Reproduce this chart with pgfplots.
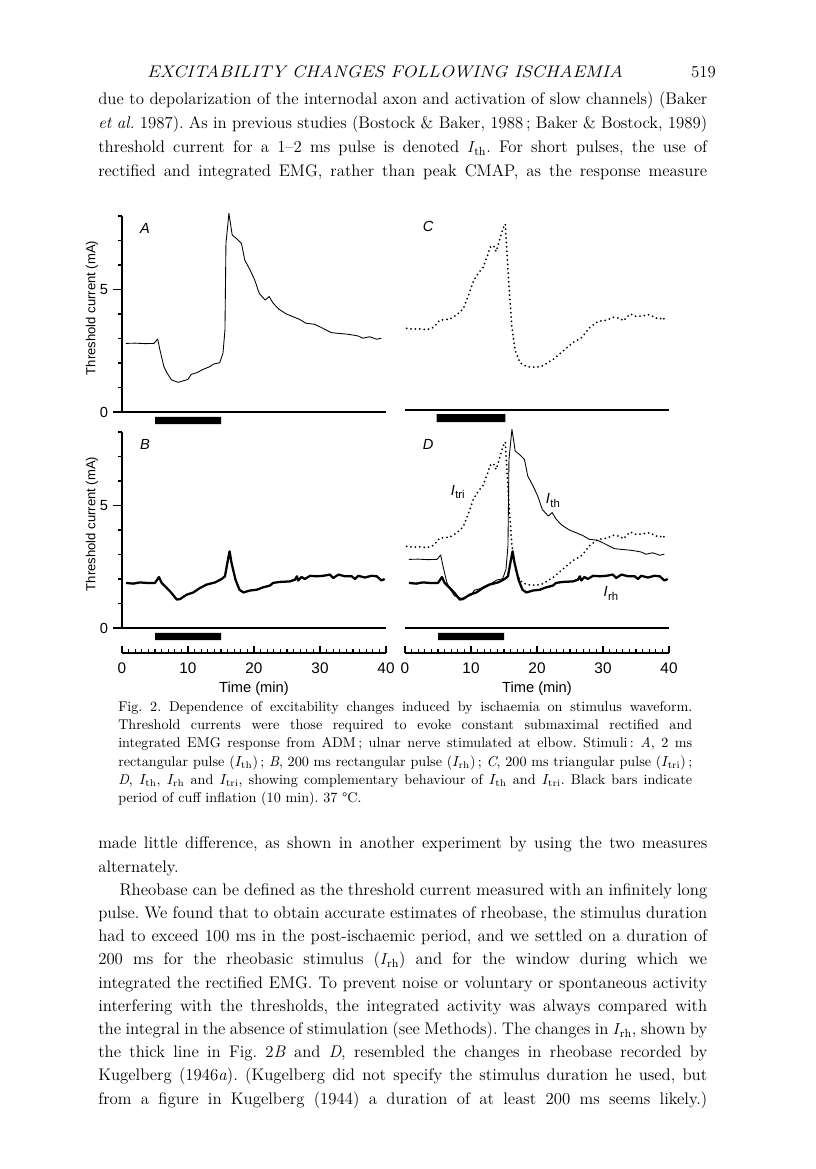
\documentclass[border=0pt]{standalone}
\usepackage{fontspec}
\usepackage{pgfplots}
\pgfplotsset{compat=1.18}
\usepackage{pgfplotstable}
\newfontfamily\figfont{Liberation Sans}

\pgfplotstableread{
t y
0.6 2.80
2.0 2.81
3.5 2.79
4.85 2.80
5.4 2.98
5.75 2.53
6.35 1.85
6.85 1.58
7.5 1.31
8.5 1.21
9.25 1.27
10.0 1.33
10.5 1.54
11.3 1.60
12.3 1.74
13.3 1.85
13.9 1.96
14.8 2.01
15.3 2.40
15.6 3.35
15.75 6.88
16.2 8.11
16.7 7.22
17.3 7.09
18.1 6.88
18.6 6.20
19.4 5.80
20.1 5.39
20.8 4.84
21.7 4.57
22.3 4.71
22.9 4.44
23.8 4.19
24.9 4.00
25.9 3.89
26.9 3.78
27.9 3.62
29.2 3.58
30.4 3.42
31.7 3.24
32.7 3.21
34.0 3.18
35.0 3.14
35.8 3.10
36.5 3.01
37.5 3.07
38.6 2.97
39.3 3.01
}\thdata

\pgfplotstableread{
t y
0.25 3.33
1.2 3.30
2.27 3.31
3.3 3.28
4.3 3.37
5.3 3.67
6.8 3.71
7.8 3.88
8.8 4.12
9.6 4.67
10.4 5.28
11.1 5.58
11.8 5.80
12.4 6.23
12.9 6.64
13.4 6.71
13.8 6.47
14.3 6.91
14.8 7.39
15.2 7.59
15.4 6.64
15.8 4.87
16.2 3.37
16.7 2.42
17.4 1.94
18.4 1.77
19.9 1.74
20.95 1.81
22.5 2.08
24.0 2.42
25.5 2.76
26.8 2.96
28.0 3.37
29.3 3.62
30.6 3.67
31.6 3.78
32.6 3.74
33.1 3.64
34.1 3.92
35.1 3.81
36.1 3.85
37.1 3.89
37.9 3.76
38.6 3.71
39.1 3.78
39.5 3.58
}\tridata

\pgfplotstableread{
t y
0.6 1.84
1.7 1.81
2.7 1.86
3.7 1.84
5.0 1.84
5.6 2.08
6.0 1.84
6.8 1.63
7.5 1.43
8.3 1.16
8.8 1.18
9.8 1.36
10.8 1.45
11.8 1.63
12.8 1.77
14.1 1.86
15.1 2.00
15.6 2.11
15.96 2.65
16.3 3.13
16.6 2.65
17.2 1.97
17.8 1.56
18.4 1.45
19.4 1.53
20.4 1.56
21.4 1.66
22.4 1.73
22.9 1.84
23.9 1.88
25.4 1.90
26.2 1.97
26.5 2.11
26.7 1.94
27.2 2.08
27.7 2.00
28.5 2.13
29.5 2.11
30.5 2.13
31.5 2.18
32.0 2.04
32.8 2.18
33.8 2.11
34.8 2.11
35.3 2.00
35.8 2.13
36.8 2.06
37.8 2.13
38.6 2.11
39.3 1.94
39.8 2.00
}\rhdata

\frenchspacing
\newlength\bodyW \setlength\bodyW{456.75pt}
\newlength\capW \setlength\capW{430.5pt}
\newcommand\bodyfont{\fontsize{12.6}{15}\selectfont}
\newcommand\capfont{\fontsize{10.6}{12.5}\selectfont}
\newcommand\bl[2]{\node[anchor=base west,inner sep=0pt] at (98,{1169-#1}) {\bodyfont\makebox[\bodyW][s]{#2}};}
\newcommand\blL[2]{\node[anchor=base west,inner sep=0pt] at (98,{1169-#1}) {\bodyfont #2};}
\newcommand\cl[2]{\node[anchor=base west,inner sep=0pt] at (118,{1169-#1}) {\capfont\makebox[\capW][s]{#2}};}
\newcommand\clL[2]{\node[anchor=base west,inner sep=0pt] at (118,{1169-#1}) {\capfont #2};}
\newcommand\ith{$I_{\mathrm{th}}$}
\newcommand\irh{$I_{\mathrm{rh}}$}
\newcommand\itri{$I_{\mathrm{tri}}$}
\newcommand\fI[1]{{\figfont\fontsize{11}{13}\selectfont\itshape I\kern0.3pt\raisebox{-0.45ex}{\upshape\fontsize{8.5}{10}\selectfont #1}}}

\pgfplotsset{
  panel/.style={scale only axis, width=198pt, height=147pt,
    xmin=0, xmax=40, ymin=0, ymax=8, clip=false, anchor=south west,
    axis line style={-, line width=1.1pt},
    tick style={line width=0.9pt, black},
    ticklabel style={font=\figfont\fontsize{11}{13}\selectfont},
    /pgf/number format/assume math mode=true,
    xtick=\empty},
  ruler/.style={scale only axis, width=198pt, height=10pt,
    xmin=0, xmax=40, ymin=0, ymax=1, anchor=south west,
    axis x line*=bottom, axis y line=none,
    axis line style={-, line width=1.0pt},
    xtick={0,10,20,30,40}, minor x tick num=9,
    tick align=inside, major tick length=5.5pt, minor tick length=3pt,
    tick style={line width=0.8pt, black},
    ticklabel style={font=\figfont\fontsize{11.5}{13}\selectfont},
    xticklabel style={yshift=-4pt},
    /pgf/number format/assume math mode=true,
    xlabel={Time (min)},
    xlabel style={font=\figfont\fontsize{11}{13}\selectfont, yshift=1pt}},
  thl/.style={black, line width=0.65pt, line join=round},
  rhl/.style={black, line width=1.7pt, line join=round},
  tril/.style={black, line width=1.5pt, line cap=round, dash pattern=on 0pt off 3.3pt},
  cuff/.style={fill=black, draw=none},
}

\begin{document}
\begin{tikzpicture}
\useasboundingbox (0pt,0pt) rectangle (612pt,876.75pt);

\begin{scope}[x=0.75pt, y=0.75pt]
% running head
\node[anchor=base, inner sep=0pt] at (385,{1169-78}) {\scalebox{1.13}[1]{\bodyfont\itshape EXCITABILITY CHANGES FOLLOWING ISCHAEMIA}};
\node[anchor=base east, inner sep=0pt] at (716,{1169-78}) {\bodyfont 519};

% text above the figure
\bl{105}{due to depolarization of the internodal axon and activation of slow channels) (Baker}
\bl{129}{\textit{et al.} 1987). As in previous studies (Bostock \& Baker, 1988\,; Baker \& Bostock, 1989)}
\bl{153}{threshold current for a 1--2 ms pulse is denoted \ith. For short pulses, the use of}
\bl{177}{rectified and integrated EMG, rather than peak CMAP, as the response measure}

% caption
\cl{711.5}{Fig.~2. Dependence of excitability changes induced by ischaemia on stimulus waveform.}
\cl{729.7}{Threshold currents were those required to evoke constant submaximal rectified and}
\cl{747.9}{integrated EMG response from ADM\,; ulnar nerve stimulated at elbow. Stimuli\,: \textit{A}, 2 ms}
\cl{766.1}{rectangular pulse (\ith)\,; \textit{B}, 200 ms rectangular pulse (\irh)\,; \textit{C}, 200 ms triangular pulse (\itri)\,;}
\cl{784.3}{\textit{D}, \ith, \irh\ and \itri, showing complementary behaviour of \ith\ and \itri. Black bars indicate}
\clL{802.5}{period of cuff inflation (10 min). 37 °C.}

% text below the figure
\bl{849}{made little difference, as shown in another experiment by using the two measures}
\blL{872.2}{alternately.}
\bl{895.4}{\hspace*{16pt}Rheobase can be defined as the threshold current measured with an infinitely long}
\bl{918.6}{pulse. We found that to obtain accurate estimates of rheobase, the stimulus duration}
\bl{941.8}{had to exceed 100 ms in the post-ischaemic period, and we settled on a duration of}
\bl{965.0}{200 ms for the rheobasic stimulus (\irh) and for the window during which we}
\bl{988.2}{integrated the rectified EMG. To prevent noise or voluntary or spontaneous activity}
\bl{1011.4}{interfering with the thresholds, the integrated activity was always compared with}
\bl{1034.6}{the integral in the absence of stimulation (see Methods). The changes in \irh, shown by}
\bl{1057.8}{the thick line in Fig. 2\textit{B} and \textit{D}, resembled the changes in rheobase recorded by}
\bl{1081.0}{Kugelberg (1946\textit{a}). (Kugelberg did not specify the stimulus duration he used, but}
\bl{1104.2}{from a figure in Kugelberg (1944) a duration of at least 200 ms seems likely.)}
\end{scope}

% Panel A
\begin{axis}[panel, at={(91.5pt,567.75pt)}, axis x line*=bottom, axis y line*=left,
  ytick={0,5}, minor ytick={1,2,3,4,6,7,8}, tick align=outside,
  major tick length=7pt, minor tick length=3pt]
  \addplot[thl] table[x=t,y=y] {\thdata};
  \addplot[cuff] coordinates {(5,-0.2) (15,-0.2) (15,-0.5) (5,-0.5) (5,-0.2)};
  \node[font=\figfont\fontsize{11}{13}\selectfont\itshape] at (axis cs:3.5,7.5) {A};
  \node[rotate=90, font=\figfont\fontsize{9.8}{12}\selectfont] at (axis cs:-4.55,4.25) {Threshold current (mA)};
\end{axis}

% Panel C
\begin{axis}[panel, at={(303.75pt,569.25pt)}, axis x line*=bottom, axis y line=none]
  \addplot[tril] table[x=t,y=y] {\tridata};
  \addplot[cuff] coordinates {(4.8,-0.17) (15.2,-0.17) (15.2,-0.5) (4.8,-0.5) (4.8,-0.17)};
  \node[font=\figfont\fontsize{11}{13}\selectfont\itshape] at (axis cs:3.5,7.5) {C};
\end{axis}

% Panel B
\begin{axis}[panel, at={(91.5pt,405.75pt)}, axis x line*=bottom, axis y line*=left,
  ytick={0,5}, minor ytick={1,2,3,4,6,7,8}, tick align=outside,
  major tick length=7pt, minor tick length=3pt]
  \addplot[rhl] table[x=t,y=y] {\rhdata};
  \addplot[cuff] coordinates {(5,-0.2) (15,-0.2) (15,-0.5) (5,-0.5) (5,-0.2)};
  \node[font=\figfont\fontsize{11}{13}\selectfont\itshape] at (axis cs:3.5,7.5) {B};
  \node[rotate=90, font=\figfont\fontsize{9.8}{12}\selectfont] at (axis cs:-4.55,4.25) {Threshold current (mA)};
\end{axis}

% Panel D
\begin{axis}[panel, at={(303.75pt,405.75pt)}, axis x line*=bottom, axis y line=none]
  \addplot[tril] table[x=t,y=y] {\tridata};
  \addplot[thl] table[x=t,y=y] {\thdata};
  \addplot[rhl] table[x=t,y=y] {\rhdata};
  \addplot[cuff] coordinates {(5,-0.2) (15,-0.2) (15,-0.5) (5,-0.5) (5,-0.2)};
  \node[font=\figfont\fontsize{11}{13}\selectfont\itshape] at (axis cs:3.5,7.5) {D};
  \node at (axis cs:8.0,5.55) {\fI{tri}};
  \node at (axis cs:22.4,5.2) {\fI{th}};
  \node at (axis cs:31.2,1.4) {\fI{rh}};
\end{axis}

% time rulers
\begin{axis}[ruler, at={(91.5pt,387pt)}]
  \addplot[draw=none] coordinates {(0,0) (40,0)};
\end{axis}
\begin{axis}[ruler, at={(303.75pt,387pt)}]
  \addplot[draw=none] coordinates {(0,0) (40,0)};
\end{axis}
\end{tikzpicture}
\end{document}
